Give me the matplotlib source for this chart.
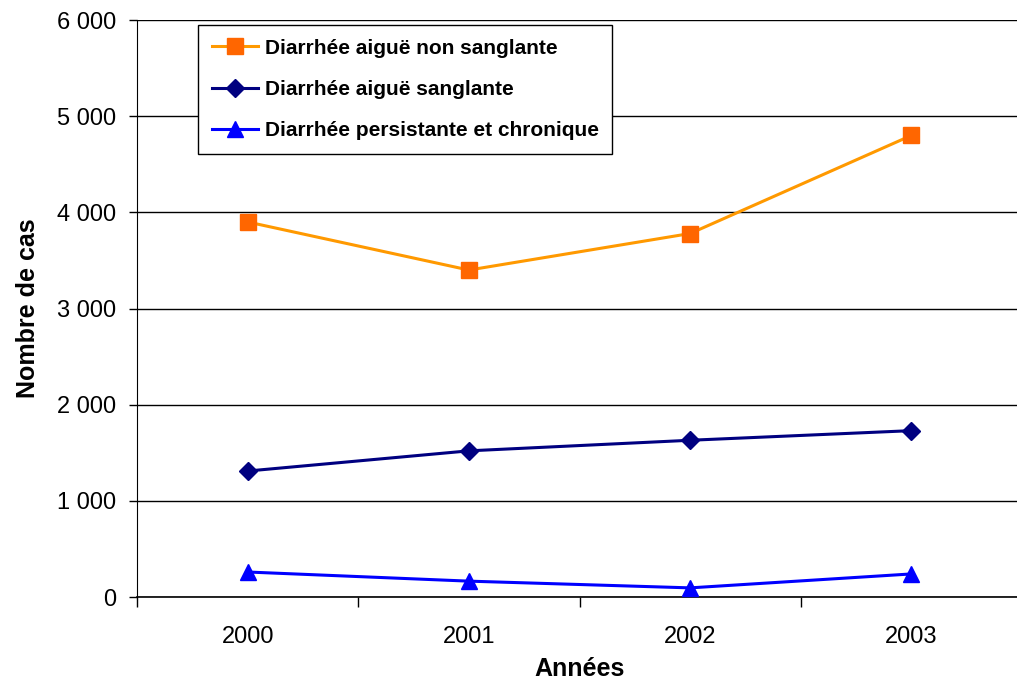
import matplotlib.pyplot as plt
from matplotlib.ticker import FuncFormatter

annees = ['2000', '2001', '2002', '2003']
non_sanglante = [3900, 3400, 3780, 4800]
sanglante = [1310, 1520, 1630, 1730]
persistante = [260, 165, 95, 240]

plt.rcParams['font.family'] = ['Liberation Sans', 'DejaVu Sans']

fig = plt.figure(figsize=(10.17, 6.83), dpi=100)
ax = fig.add_axes([0.1347, 0.1259, 0.8703, 0.8448])

x = list(range(len(annees)))
ax.plot(x, non_sanglante, color='#FF9900', lw=2.2, marker='s', ms=11,
        mfc='#FF6600', mec='#FF6600', label='Diarrhée aiguë non sanglante', zorder=3)
ax.plot(x, sanglante, color='#000080', lw=2.2, marker='D', ms=9,
        mfc='#000080', mec='#000080', label='Diarrhée aiguë sanglante', zorder=3)
ax.plot(x, persistante, color='#0000FF', lw=2.2, marker='^', ms=12,
        mfc='#0000FF', mec='#0000FF', label='Diarrhée persistante et chronique', zorder=3)

ax.set_xlim(-0.5, 3.5)
ax.set_ylim(0, 6000)
ax.set_yticks(range(0, 6001, 1000))
ax.yaxis.set_major_formatter(FuncFormatter(lambda v, p: f'{int(v):,}'.replace(',', ' ')))
# category separators as major ticks, year labels centred as minor ticks
ax.set_xticks([-0.5, 0.5, 1.5, 2.5, 3.5])
ax.set_xticklabels([])
ax.set_xticks(x, minor=True)
ax.set_xticklabels(annees, minor=True)
ax.tick_params(axis='x', which='minor', length=0, pad=21, labelsize=17)
ax.tick_params(axis='x', which='major', length=7, width=1, direction='out')
ax.tick_params(axis='y', length=6, width=1, direction='out', labelsize=17, pad=9)

ax.grid(axis='y', color='black', lw=1)
ax.set_axisbelow(True)
for s in ['top', 'right']:
    ax.spines[s].set_visible(False)
for s in ['left', 'bottom']:
    ax.spines[s].set_color('black')
ax.spines['bottom'].set_linewidth(1.2)

ax.set_ylabel('Nombre de cas', fontsize=18, fontweight='bold', labelpad=12)
ax.set_xlabel('Années', fontsize=18, fontweight='bold', labelpad=6)

leg = ax.legend(loc='upper left', bbox_to_anchor=(0.0689, 0.9913), borderaxespad=0,
                prop={'weight': 'bold', 'size': 15}, frameon=True, fancybox=False,
                edgecolor='black', framealpha=1, borderpad=0.66, labelspacing=1.07,
                handlelength=2.2, handletextpad=0.34)
leg.get_frame().set_linewidth(1)

fig.savefig('out.png', dpi=100)
